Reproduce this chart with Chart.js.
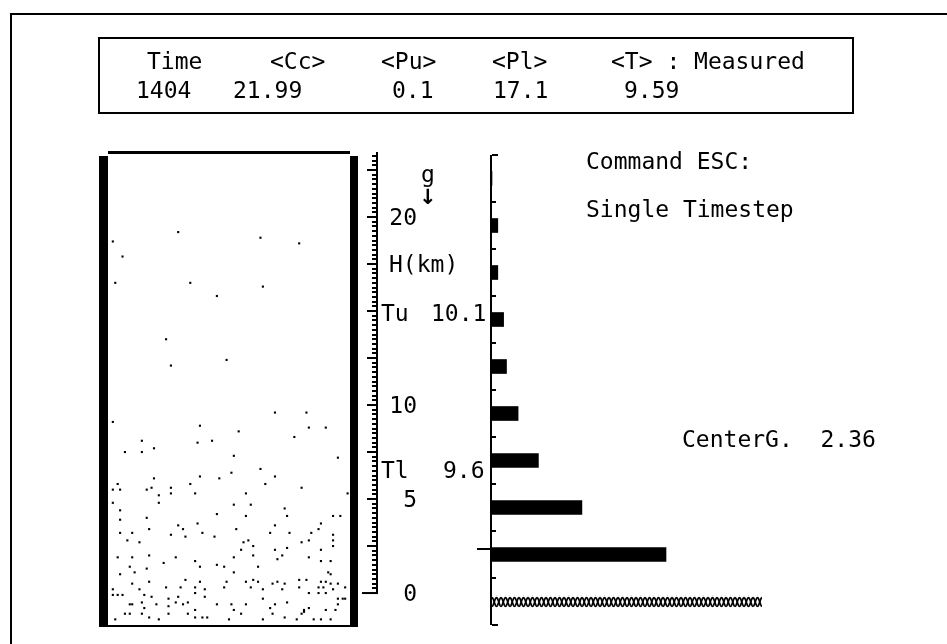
<!DOCTYPE html>
<html>
<head>
<meta charset="utf-8">
<script src="https://cdn.jsdelivr.net/npm/chart.js@4.4.0/dist/chart.umd.min.js"></script>
<style>
body { margin: 0; background: #fff; }
#wrap { position: relative; width: 947px; height: 644px; overflow: hidden; background: #fff; }
canvas { position: absolute; left: 0; top: 0; }
.t { position: absolute; font-family: "DejaVu Sans Mono", monospace; font-size: 23px; line-height: 23px; white-space: pre; color: #000; }
#frame { position: absolute; left: 10px; top: 13px; width: 960px; height: 660px; border-left: 2px solid #000; border-top: 2px solid #000; }
#head { position: absolute; left: 98px; top: 37px; width: 752px; height: 73px; border: 2px solid #000; }
</style>
</head>
<body>
<div id="wrap">
	<div id="frame"></div>
	<div id="head"></div>
	<canvas id="parts" width="947" height="644"></canvas>
	<canvas id="hist" width="947" height="644"></canvas>

	<div class="t" style="left:147px;top:50px">Time</div>
	<div class="t" style="left:270px;top:50px">&lt;Cc&gt;</div>
	<div class="t" style="left:381px;top:50px">&lt;Pu&gt;</div>
	<div class="t" style="left:492px;top:50px">&lt;Pl&gt;</div>
	<div class="t" style="left:611px;top:50px">&lt;T&gt; : Measured</div>
	<div class="t" style="left:136px;top:79px">1404</div>
	<div class="t" style="left:233px;top:79px">21.99</div>
	<div class="t" style="left:392px;top:79px">0.1</div>
	<div class="t" style="left:493px;top:79px">17.1</div>
	<div class="t" style="left:624px;top:79px">9.59</div>

	<div class="t" style="left:586px;top:150px">Command ESC:</div>
	<div class="t" style="left:586px;top:198px">Single Timestep</div>
	<div class="t" style="left:682px;top:428px">CenterG.  2.36</div>

	<div class="t" style="left:421px;top:163px">g</div>
	<div class="t" style="left:419px;top:186px;font-family:'DejaVu Sans',sans-serif;font-size:21px;font-weight:bold">↓</div>
	<div class="t" style="left:389px;top:253px">H(km)</div>
	<div class="t" style="left:381px;top:302px">Tu</div>
	<div class="t" style="left:431px;top:302px">10.1</div>
	<div class="t" style="left:381px;top:459px">Tl</div>
	<div class="t" style="left:443px;top:459px">9.6</div>
</div>
<script>
(function() {

	'use strict';

	// histogram of particle counts per height layer (km)
	var heightBins = [22.05, 19.55, 17.05, 14.55, 12.05, 9.55, 7.05, 4.55, 2.05];
	var binCounts = [0, 2, 2, 4, 5, 9, 16, 31, 60];
	var groundBin = [-0.45];
	var groundCount = [93];
	var binEdges = [23.3, 20.8, 18.3, 15.8, 13.3, 10.8, 8.3, 5.8, 3.3, 0.8, -1.7];
	var rulerLabels = [0, 5, 10, 20];
	var centerG = 2.36;

	// particle positions: across the box (0-100) and height (km)
	var partX = [2, 29, 6, 63, 79, 3, 34, 64, 45, 24, 49, 26,
		2, 38, 69, 82, 83, 90, 54, 14, 37, 43, 77, 7, 14, 19, 52, 95,
		63, 51, 69, 38, 46, 19, 4, 2, 5, 16, 18, 26, 26, 34, 36, 65, 80, 99, 57,
		21, 21, 2, 52, 59, 5, 73, 45, 57, 74, 93, 96, 5, 16, 37,
		17, 29, 31, 53, 69, 88, 87, 5, 10, 26, 32, 39, 44, 67, 75, 84, 93,
		8, 13, 93, 56, 58, 60, 55, 80, 83, 88, 93, 69, 74, 72, 70,
		4, 10, 17, 28, 36, 52, 60, 83, 88, 92, 23, 38, 45, 48, 62, 9, 16,
		5, 11, 52, 91, 92, 17, 10, 32, 38, 49, 57, 60, 62, 68, 70, 73, 79, 82, 88, 90, 92, 95,
		87, 93, 98, 2, 2, 4, 6, 13, 15, 18, 24, 30, 25, 29, 33, 36, 36, 40, 40, 48, 59, 64, 64, 72, 79, 83, 87, 89, 90, 95, 97, 98,
		9, 10, 14, 20, 25, 28, 31, 36, 45, 51, 57, 67, 69, 74, 81, 83, 90, 94, 95, 15, 52,
		3, 7, 9, 14, 17, 21, 25, 33, 36, 39, 41, 50, 55, 64, 68, 73, 78, 80, 85, 88, 92, 81];
	var partH = [18.7, 19.2, 17.9, 18.9, 18.6, 16.5, 16.5, 16.3, 15.8, 13.5, 12.4, 12.1,
		9.1, 8.9, 9.6, 9.6, 8.8, 8.8, 8.6, 8.1, 8.0, 8.1, 8.3, 7.5, 7.5, 7.7, 7.3, 7.2,
		6.6, 6.4, 6.2, 6.2, 6.1, 6.1, 5.8, 5.5, 5.5, 5.5, 5.6, 5.6, 5.3, 5.8, 5.3, 5.8, 5.6, 5.3, 5.3,
		5.2, 4.8, 4.8, 4.7, 4.7, 4.4, 4.5, 4.2, 4.1, 4.1, 4.1, 4.1, 3.9, 4.0, 3.7,
		3.4, 3.6, 3.4, 3.4, 3.6, 3.7, 3.4, 3.2, 3.2, 3.1, 3.0, 3.2, 3.0, 3.2, 3.2, 3.2, 3.1,
		2.8, 2.7, 2.8, 2.7, 2.8, 2.5, 2.3, 2.7, 2.8, 2.3, 2.5, 2.3, 2.4, 2.0, 1.8,
		1.9, 1.9, 2.0, 1.9, 1.7, 1.9, 2.0, 1.9, 1.7, 1.7, 1.6, 1.4, 1.5, 1.4, 1.4, 1.4, 1.3,
		1.0, 1.1, 1.1, 1.1, 1.0, 0.6, 0.5, 0.7, 0.6, 0.6, 0.6, 0.7, 0.6, 0.5, 0.6, 0.5, 0.7, 0.7, 0.6, 0.6, 0.5, 0.5,
		0.3, 0.2, 0.3, 0.2, -0.1, -0.1, -0.1, 0.2, -0.1, -0.2, 0.3, 0.3, -0.3, -0.2, -0.5, 0.3, 0.0, 0.2, -0.2, 0.3, 0.3, 0.2, -0.3, 0.2, 0.3, 0.0, 0.0, 0.3, 0.0, -0.3, -0.3, -0.3,
		-0.6, -0.6, -0.5, -0.6, -0.7, -0.5, -0.6, -0.9, -0.6, -0.6, -0.6, -0.8, -0.6, -0.5, -1.0, -0.8, -0.9, -0.9, -0.6, -0.8, -0.9,
		-1.4, -1.1, -1.1, -1.1, -1.3, -1.4, -1.1, -1.1, -1.3, -1.3, -1.3, -1.4, -1.1, -1.4, -1.1, -1.3, -1.4, -1.1, -1.4, -1.4, -1.4, -0.9];

	var H_MIN = -1.7, H_MAX = 23.46;
	var FONT = '23px "DejaVu Sans Mono", monospace';

	function points() {
		var pts = [];
		for( var i = 0; i < partX.length; i++ ) {
			pts.push({ x: partX[i], y: partH[i] });
		}
		return pts;
	}

	function barPoints( hs, cs ) {
		var pts = [];
		for( var i = 0; i < hs.length; i++ ) {
			pts.push({ x: cs[i], y: hs[i] });
		}
		return pts;
	}

	function chainPattern() {
		var c = document.createElement('canvas');
		c.width = 9; c.height = 12;
		var g = c.getContext('2d');
		g.fillStyle = '#fff';
		g.fillRect(0, 0, 9, 12);
		g.strokeStyle = '#000';
		g.lineWidth = 1.7;
		for( var s = -1; s <= 1; s += 2 ) {
			g.beginPath();
			for( var i = 0; i <= 18; i++ ) {
				var x = i / 2;
				var y = 6 + s * 4.4 * Math.cos(2 * Math.PI * x / 9);
				if( i === 0 ) g.moveTo(x, y); else g.lineTo(x, y);
			}
			g.stroke();
		}
		return g.createPattern(c, 'repeat');
	}

	var boxPlugin = {
		id: 'box',
		afterDraw: function( chart ) {
			var ctx = chart.ctx, a = chart.chartArea, ys = chart.scales.y;
			ctx.save();
			ctx.fillStyle = '#000';
			// container walls
			ctx.fillRect(a.left - 9, a.top + 4, 9, a.bottom - a.top - 2);
			ctx.fillRect(a.right, a.top + 4, 8, a.bottom - a.top - 2);
			ctx.fillRect(a.left, a.top - 1, a.right - a.left, 3);
			ctx.fillRect(a.left - 9, a.bottom, a.right - a.left + 17, 2);

			// height ruler
			var rx = a.right + 27;
			var y0 = ys.getPixelForValue(0);
			ctx.fillRect(rx - 1, a.top, 2, y0 - a.top + 1);
			ctx.fillRect(rx - 15, y0 - 1, 16, 2);
			for( var i = 1; i * 0.25 < H_MAX; i++ ) {
				var y = Math.round(ys.getPixelForValue(i * 0.25));
				var len = (i % 10 === 0) ? 10 : 5;
				ctx.fillRect(rx - len, y - 1, len, 2);
			}
			ctx.font = FONT;
			ctx.textAlign = 'right';
			ctx.textBaseline = 'alphabetic';
			rulerLabels.forEach(function( v ) {
				ctx.fillText(String(v), rx + 40, ys.getPixelForValue(v) + 8);
			});
			ctx.restore();
		}
	};

	var pattern = chainPattern();

	var axisPlugin = {
		id: 'axis',
		beforeDatasetsDraw: function( chart ) {
			var el = chart.getDatasetMeta(1).data[0];
			if( el ) {
				pattern.setTransform(new DOMMatrix([1, 0, 0, 1, el.base, Math.round(el.y) - 6]));
			}
		},
		afterDraw: function( chart ) {
			var ctx = chart.ctx, ys = chart.scales.y, xs = chart.scales.x;
			var ax = xs.getPixelForValue(0);
			var top = ys.getPixelForValue(binEdges[0]);
			var bot = ys.getPixelForValue(binEdges[binEdges.length - 1]);
			ctx.save();
			ctx.fillStyle = '#000';
			ctx.fillRect(ax - 2, top, 2, bot - top);
			binEdges.forEach(function( e, i ) {
				var y = Math.round(ys.getPixelForValue(e));
				var len = (i === 0 || i === binEdges.length - 1) ? 6 : 4;
				ctx.fillRect(ax, y - 1, len, 2);
			});
			// center of gravity marker
			var cy = Math.round(ys.getPixelForValue(centerG));
			ctx.fillRect(ax - 15, cy - 1, 15, 2);
			ctx.restore();
		}
	};

	new Chart(document.getElementById('parts'), {
		type: 'scatter',
		data: {
			datasets: [{
				data: points(),
				pointStyle: 'rect',
				pointRadius: 1.5,
				backgroundColor: '#000',
				borderWidth: 0
			}]
		},
		options: {
			responsive: false,
			animation: false,
			devicePixelRatio: 1,
			events: [],
			layout: { padding: { left: 108, right: 597, top: 152, bottom: 19 } },
			scales: {
				x: { type: 'linear', min: 0, max: 100, display: false },
				y: { type: 'linear', min: H_MIN, max: H_MAX, display: false }
			},
			plugins: { legend: { display: false }, tooltip: { enabled: false } }
		},
		plugins: [boxPlugin]
	});

	new Chart(document.getElementById('hist'), {
		type: 'bar',
		data: {
			datasets: [{
				data: barPoints(heightBins, binCounts),
				backgroundColor: '#000',
				barThickness: 14,
				grouped: false
			}, {
				data: barPoints(groundBin, groundCount),
				backgroundColor: pattern,
				barThickness: 12,
				grouped: false
			}]
		},
		options: {
			indexAxis: 'y',
			responsive: false,
			animation: false,
			devicePixelRatio: 1,
			events: [],
			layout: { padding: { left: 492, right: 20, top: 152, bottom: 19 } },
			scales: {
				x: { type: 'linear', min: 0, max: 150, display: false },
				y: { type: 'linear', min: H_MIN, max: H_MAX, offset: false, display: false }
			},
			plugins: { legend: { display: false }, tooltip: { enabled: false } }
		},
		plugins: [axisPlugin]
	});

}());
</script>
</body>
</html>
